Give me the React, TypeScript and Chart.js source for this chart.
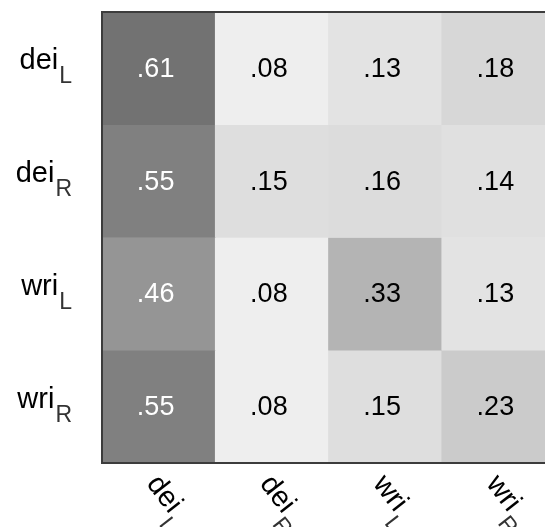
import React, { useEffect, useRef } from "react";
import { Chart, registerables } from "chart.js";

Chart.register(...registerables);

// Row / column labels (base text + subscript)
const rowNames = ["dei", "dei", "wri", "wri"];
const rowSubs = ["L", "R", "L", "R"];
const colNames = ["dei", "dei", "wri", "wri"];
const colSubs = ["L", "R", "L", "R"];

// Cell values, one array per row
const rowDeiL = [0.61, 0.08, 0.13, 0.18];
const rowDeiR = [0.55, 0.15, 0.16, 0.14];
const rowWriL = [0.46, 0.08, 0.33, 0.13];
const rowWriR = [0.55, 0.08, 0.15, 0.23];
const matrix = [rowDeiL, rowDeiR, rowWriL, rowWriR];

const FONT = "'Liberation Sans', Arial, Helvetica, sans-serif";

function grayFor(v: number): string {
  const g = Math.max(0, Math.min(255, Math.round(257 - 234 * v)));
  return `rgb(${g},${g},${g})`;
}
function fmt(v: number): string {
  return v.toFixed(2).replace(/^0/, "");
}

const overlayPlugin = {
  id: "heatOverlay",
  afterDatasetsDraw(chart: any) {
    const ctx = chart.ctx as CanvasRenderingContext2D;
    const area = chart.chartArea;
    const xs = chart.scales.x;
    const ys = chart.scales.y;
    ctx.save();
    // values
    ctx.font = `27px ${FONT}`;
    ctx.textAlign = "center";
    ctx.textBaseline = "middle";
    matrix.forEach((row, i) => {
      const meta = chart.getDatasetMeta(i);
      row.forEach((v, j) => {
        const el = meta.data[j];
        const cx = el.x;
        const cy = (el.y + el.base) / 2;
        ctx.fillStyle = v > 0.4 ? "#ffffff" : "#000000";
        ctx.fillText(fmt(v), cx - 3, cy + 1);
      });
    });
    // border (top, left, bottom)
    ctx.fillStyle = "#3c3c3c";
    ctx.fillRect(area.left - 1, area.top - 1, area.right - area.left + 2, 2);
    ctx.fillRect(area.left - 1, area.top - 1, 2, area.bottom - area.top + 2);
    ctx.fillRect(area.left - 1, area.bottom - 1, area.right - area.left + 2, 2);

    // row labels
    ctx.textAlign = "left";
    ctx.textBaseline = "alphabetic";
    rowNames.forEach((name, i) => {
      const cy = ys.getPixelForValue(i + 0.5);
      ctx.font = `29px ${FONT}`;
      const w1 = ctx.measureText(name).width;
      ctx.font = `23px ${FONT}`;
      const w2 = ctx.measureText(rowSubs[i]).width;
      const right = area.left - 30;
      const x0 = right - w1 - w2 - 1;
      ctx.fillStyle = "#000000";
      ctx.font = `29px ${FONT}`;
      ctx.fillText(name, x0, cy + 1);
      ctx.fillStyle = "#333333";
      ctx.font = `23px ${FONT}`;
      ctx.fillText(rowSubs[i], x0 + w1 + 1, cy + 15);
    });

    // column labels (rotated)
    colNames.forEach((name, j) => {
      const cx = xs.getPixelForValue(j);
      ctx.save();
      ctx.translate(cx - 13, area.bottom + 21);
      ctx.rotate((52 * Math.PI) / 180);
      ctx.font = `29px ${FONT}`;
      const w1 = ctx.measureText(name).width;
      ctx.fillStyle = "#000000";
      ctx.fillText(name, 0, 0);
      ctx.fillStyle = "#333333";
      ctx.font = `23px ${FONT}`;
      ctx.fillText(colSubs[j], w1 + 1, 15);
      ctx.restore();
    });
    ctx.restore();
  },
};

export default function App() {
  const ref = useRef<HTMLCanvasElement | null>(null);
  useEffect(() => {
    if (!ref.current) return;
    const chart = new Chart(ref.current, {
      type: "bar",
      data: {
        labels: colNames.map((n, j) => n + colSubs[j]),
        datasets: matrix.map((row, i) => ({
          label: rowNames[i] + rowSubs[i],
          data: row.map(() => [i, i + 1]) as any,
          backgroundColor: row.map(grayFor),
          borderWidth: 0,
          grouped: false,
          barPercentage: 1,
          categoryPercentage: 1,
        })),
      },
      options: {
        responsive: false,
        animation: false,
        layout: { padding: { left: 102, top: 12, right: 25, bottom: 64 } },
        scales: {
          x: { type: "category", display: false },
          y: { type: "linear", min: 0, max: 4, reverse: true, display: false },
        },
        plugins: { legend: { display: false }, tooltip: { enabled: false } },
      },
      plugins: [overlayPlugin],
    });
    return () => chart.destroy();
  }, []);
  return (
    <div
      style={{
        position: "absolute",
        left: 0,
        top: 0,
        width: 545,
        height: 527,
        overflow: "hidden",
        background: "#ffffff",
      }}
    >
      <canvas ref={ref} width={580} height={527} style={{ display: "block" }} />
    </div>
  );
}
